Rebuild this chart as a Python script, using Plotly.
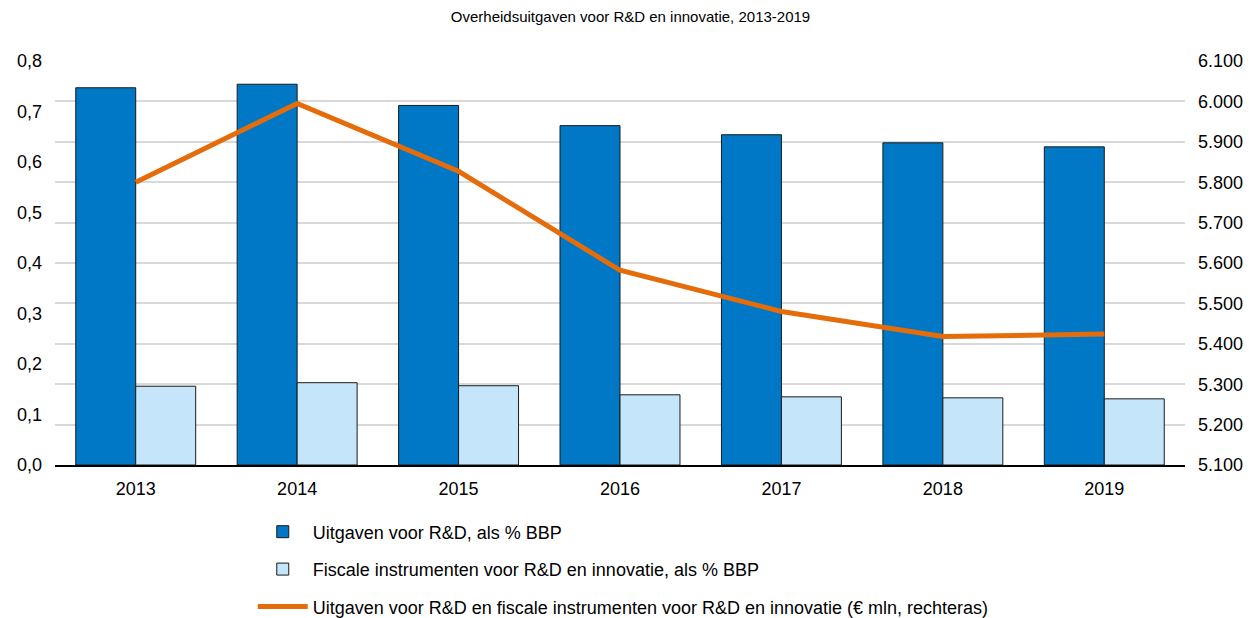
import plotly.graph_objects as go

jaren = ["2013", "2014", "2015", "2016", "2017", "2018", "2019"]
uitgaven_rd = [0.747, 0.754, 0.712, 0.672, 0.654, 0.638, 0.630]
fiscale_instr = [0.156, 0.163, 0.157, 0.139, 0.135, 0.133, 0.131]
totaal_mln = [5800, 5995, 5827, 5582, 5480, 5418, 5424]

left_ticks = [0, 0.1, 0.2, 0.3, 0.4, 0.5, 0.6, 0.7, 0.8]
right_ticks = [5100, 5200, 5300, 5400, 5500, 5600, 5700, 5800, 5900, 6000, 6100]

FONT = "Liberation Sans, Arial, sans-serif"

fig = go.Figure()

fig.add_trace(go.Bar(
    x=jaren, y=uitgaven_rd, name="Uitgaven voor R&D, als % BBP",
    marker=dict(color="#0078C6", line=dict(color="#1a1a1a", width=1)),
    legendgroup="a",
))
fig.add_trace(go.Bar(
    x=jaren, y=fiscale_instr, name="Fiscale instrumenten voor R&D en innovatie, als % BBP",
    marker=dict(color="#C5E6FA", line=dict(color="#1a1a1a", width=1)),
    legendgroup="b",
))
fig.add_trace(go.Scatter(
    x=jaren, y=totaal_mln, yaxis="y2", mode="lines",
    name="Uitgaven voor R&D en fiscale instrumenten voor R&D en innovatie (€ mln, rechteras)",
    line=dict(color="#E46C0A", width=5),
    legendgroup="c",
))

# de pagina zet de figuur 8px naar rechts/onder, daarom 8px kleiner
fig.update_layout(
    width=1245, height=610,
    margin=dict(l=47, r=68, t=53, b=153, autoexpand=False),
    paper_bgcolor="white", plot_bgcolor="white",
    separators=",.",
    font=dict(family=FONT, size=18, color="#000000"),
    title=dict(text="Overheidsuitgaven voor R&D en innovatie, 2013-2019",
               x=0.5, xanchor="center", y=0.985, yanchor="middle",
               font=dict(size=15)),
    barmode="group", bargap=0.257, bargroupgap=0,
    xaxis=dict(showgrid=False, showline=True, linecolor="#000000", linewidth=2,
               ticks="", tickfont=dict(size=18), ticklabelstandoff=6),
    yaxis=dict(range=[0, 0.8], tickvals=left_ticks, tickformat=".1f",
               showgrid=False, zeroline=False, ticks="",
               tickfont=dict(size=18), ticklabelstandoff=12),
    yaxis2=dict(range=[5100, 6100], tickvals=right_ticks, tickformat=",.0f",
                overlaying="y", side="right", showgrid=True,
                gridcolor="#D9D9D9", gridwidth=2, zeroline=False, ticks="",
                tickfont=dict(size=18), ticklabelstandoff=12),
    legend=dict(orientation="v", x=0.175, xanchor="left", y=-0.12, yanchor="top",
                traceorder="grouped", tracegroupgap=11, itemwidth=50,
                font=dict(size=18), bgcolor="rgba(0,0,0,0)"),
)

fig.write_html("out.html")
